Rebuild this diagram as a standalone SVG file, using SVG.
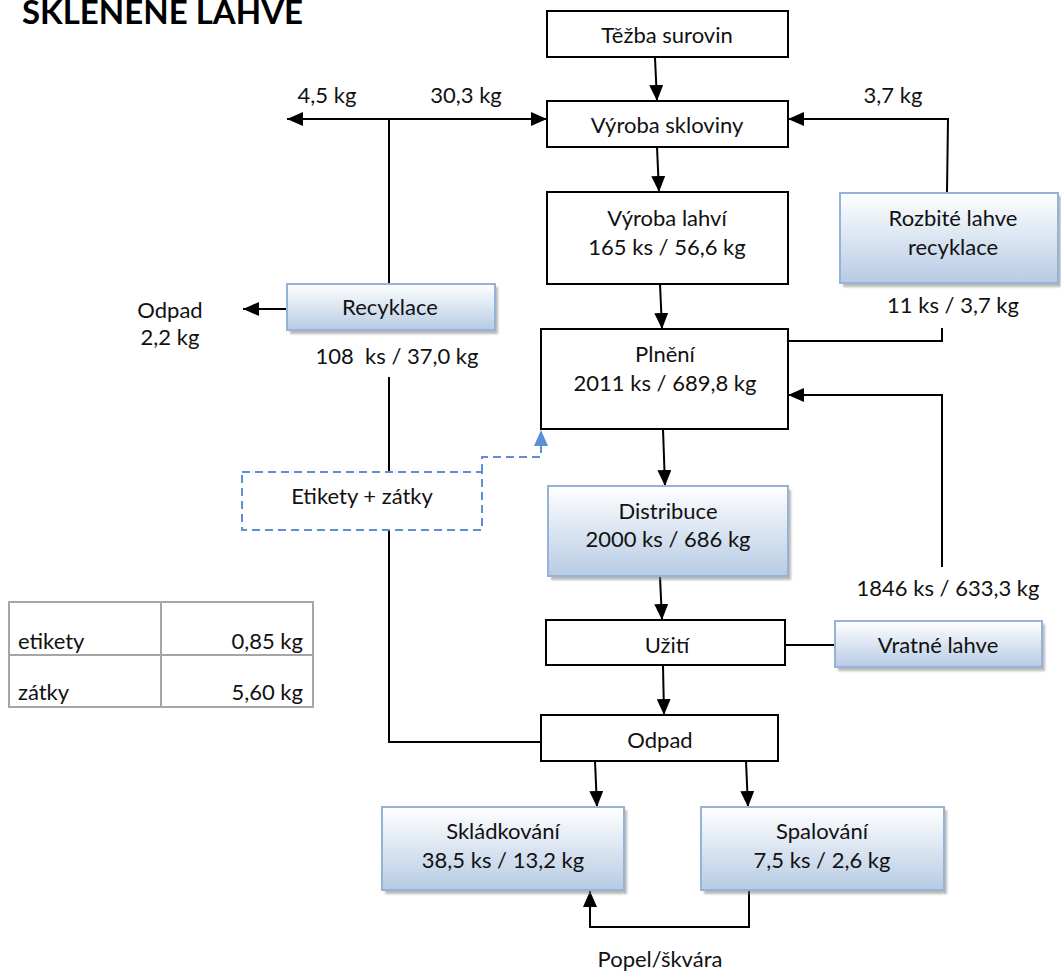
<svg xmlns="http://www.w3.org/2000/svg" width="1061" height="979" viewBox="0 0 1061 979">
  <style>
    text { font-family: Lato, "Open Sans", sans-serif; font-size: 22px; fill: #111; }
    .c { text-anchor: middle; }
    .r { text-anchor: end; }
    .title { font-size: 33px; font-weight: bold; fill: #000; }
    .plain { fill: #fff; stroke: #000; stroke-width: 2; }
    .blue { fill: url(#blueFill); stroke: #95b3d7; stroke-width: 2; }
    .shadow { fill: #7f7f7f; opacity: 0.55; filter: url(#soft); }
    .dash { fill: #fff; stroke: #5b8fd6; stroke-width: 2; stroke-dasharray: 8 5; }
    .link { fill: none; stroke: #000; stroke-width: 2; }
    .dlink { fill: none; stroke: #5b8fd6; stroke-width: 2; stroke-dasharray: 8 5; }
    .grid { fill: none; stroke: #a6a6a6; stroke-width: 2; }
  </style>
  <defs>
    <linearGradient id="blueFill" x1="0" y1="0" x2="0" y2="1">
      <stop offset="0" stop-color="#ffffff"/>
      <stop offset="1" stop-color="#b7cbe4"/>
    </linearGradient>
    <filter id="soft" x="-5%" y="-5%" width="110%" height="120%">
      <feGaussianBlur stdDeviation="1.2"/>
    </filter>
    <marker id="arr" markerUnits="userSpaceOnUse" markerWidth="16" markerHeight="14" viewBox="0 0 16 14" refX="16" refY="7" orient="auto-start-reverse">
      <path d="M0,0 L16,7 L0,14 Z" fill="#000"/>
    </marker>
    <marker id="arrBlue" markerUnits="userSpaceOnUse" markerWidth="16" markerHeight="14" viewBox="0 0 16 14" refX="16" refY="7" orient="auto">
      <path d="M0,0 L16,7 L0,14 Z" fill="#5b8fd6"/>
    </marker>
  </defs>

  <text class="title" x="22" y="24">SKLENENE LAHVE</text>

  <!-- connectors -->
  <g id="connectors">
    <line class="link" x1="655" y1="58" x2="657" y2="101" marker-end="url(#arr)"/>
    <line class="link" x1="657" y1="147" x2="659" y2="192" marker-end="url(#arr)"/>
    <line class="link" x1="660" y1="284" x2="662" y2="329" marker-end="url(#arr)"/>
    <line class="link" x1="663" y1="429" x2="665" y2="486" marker-end="url(#arr)"/>
    <line class="link" x1="660" y1="577" x2="662" y2="620" marker-end="url(#arr)"/>
    <line class="link" x1="663" y1="665" x2="664" y2="715" marker-end="url(#arr)"/>
    <line class="link" x1="595" y1="761" x2="597" y2="807" marker-end="url(#arr)"/>
    <line class="link" x1="746" y1="761" x2="748" y2="807" marker-end="url(#arr)"/>
    <polyline class="link" points="749,891 749,927 590,927 590,891" marker-end="url(#arr)"/>
    <line class="link" x1="287" y1="119" x2="547" y2="119" marker-start="url(#arr)" marker-end="url(#arr)"/>
    <line class="link" x1="389" y1="119" x2="389" y2="284"/>
    <line class="link" x1="287" y1="309" x2="243" y2="309" marker-end="url(#arr)"/>
    <line class="link" x1="389" y1="377" x2="389" y2="472"/>
    <polyline class="link" points="389,531 389,742 541,742"/>
    <polyline class="link" points="947,192 948,119 788,119" marker-end="url(#arr)"/>
    <polyline class="link" points="788,341 942,341 942,328"/>
    <polyline class="link" points="942,567 942,395 788,395" marker-end="url(#arr)"/>
    <line class="link" x1="785" y1="645" x2="835" y2="645"/>
    <polyline class="dlink" points="482,472 482,457 541,457 541,430" marker-end="url(#arrBlue)"/>
  </g>

  <g id="tezba">
    <rect class="plain" x="547" y="11" width="241" height="46"/>
    <text class="c" x="667" y="43">Těžba surovin</text>
  </g>
  <g id="vyroba-skloviny">
    <rect class="plain" x="547" y="101" width="241" height="46"/>
    <text class="c" x="667" y="133">Výroba skloviny</text>
  </g>
  <g id="vyroba-lahvi">
    <rect class="plain" x="547" y="192" width="241" height="92"/>
    <text class="c" x="667" y="226">Výroba lahví</text>
    <text class="c" x="667" y="255">165 ks / 56,6 kg</text>
  </g>
  <g id="rozbite">
    <rect class="shadow" x="843" y="196" width="218" height="91"/>
    <rect class="blue" x="840" y="193" width="218" height="90"/>
    <text class="c" x="953" y="226">Rozbité lahve</text>
    <text class="c" x="953" y="255">recyklace</text>
  </g>
  <g id="recyklace">
    <rect class="shadow" x="290" y="287" width="208" height="47"/>
    <rect class="blue" x="287" y="284" width="208" height="46"/>
    <text class="c" x="390" y="315">Recyklace</text>
  </g>
  <g id="plneni">
    <rect class="plain" x="541" y="329" width="247" height="100"/>
    <text class="c" x="665" y="362">Plnění</text>
    <text class="c" x="665" y="391">2011 ks / 689,8 kg</text>
  </g>
  <g id="etikety">
    <rect class="dash" x="242" y="472" width="240" height="58"/>
    <text class="c" x="362" y="504">Etikety + zátky</text>
  </g>
  <g id="distribuce">
    <rect class="shadow" x="551" y="490" width="240" height="90"/>
    <rect class="blue" x="548" y="486" width="240" height="90"/>
    <text class="c" x="668" y="519">Distribuce</text>
    <text class="c" x="668" y="547">2000 ks / 686 kg</text>
  </g>
  <g id="uziti">
    <rect class="plain" x="546" y="620" width="239" height="45"/>
    <text class="c" x="667" y="653">Užití</text>
  </g>
  <g id="vratne">
    <rect class="shadow" x="838" y="624" width="207" height="47"/>
    <rect class="blue" x="835" y="621" width="207" height="46"/>
    <text class="c" x="938" y="653">Vratné lahve</text>
  </g>
  <g id="odpad">
    <rect class="plain" x="541" y="715" width="237" height="46"/>
    <text class="c" x="660" y="748">Odpad</text>
  </g>
  <g id="skladkovani">
    <rect class="shadow" x="385" y="810" width="242" height="84"/>
    <rect class="blue" x="382" y="807" width="242" height="83"/>
    <text class="c" x="503" y="839">Skládkování</text>
    <text class="c" x="503" y="868">38,5 ks / 13,2 kg</text>
  </g>
  <g id="spalovani">
    <rect class="shadow" x="704" y="810" width="243" height="84"/>
    <rect class="blue" x="701" y="807" width="243" height="83"/>
    <text class="c" x="822" y="839">Spalování</text>
    <text class="c" x="822" y="868">7,5 ks / 2,6 kg</text>
  </g>

  <!-- flow labels -->
  <g id="labels">
    <text class="c" x="327" y="103">4,5 kg</text>
    <text class="c" x="466" y="103">30,3 kg</text>
    <text class="c" x="893" y="103">3,7 kg</text>
    <text class="c" x="170" y="318">Odpad</text>
    <text class="c" x="170" y="345">2,2 kg</text>
    <text class="c" x="397" y="364" xml:space="preserve">108  ks / 37,0 kg</text>
    <text class="c" x="953" y="313">11 ks / 3,7 kg</text>
    <text class="c" x="948" y="596">1846 ks / 633,3 kg</text>
    <text class="c" x="660" y="967">Popel/škvára</text>
  </g>

  <!-- mass table -->
  <g id="table">
    <rect class="grid" x="9" y="602" width="304" height="105"/>
    <line class="grid" x1="161" y1="602" x2="161" y2="707"/>
    <line class="grid" x1="9" y1="655" x2="313" y2="655"/>
    <text x="18" y="649">etikety</text>
    <text class="r" x="303" y="649">0,85 kg</text>
    <text x="18" y="700">zátky</text>
    <text class="r" x="303" y="700">5,60 kg</text>
  </g>
</svg>
